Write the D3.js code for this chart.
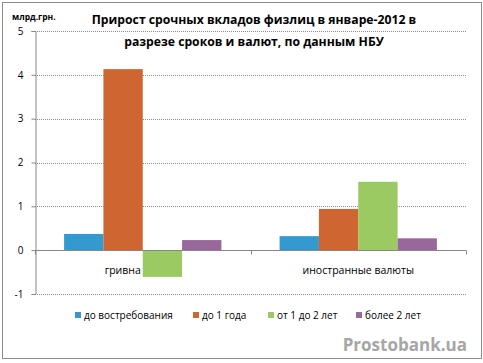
<!DOCTYPE html>
<html>
<head>
  <meta charset="utf-8">
  <script src="https://d3js.org/d3.v7.min.js"></script>
  <style>
    body { margin: 0; background: #fff; }
    svg text { font-family: "Open Sans", "Noto Sans", sans-serif; fill: #000; }
    .title { font-size: 12.2px; font-weight: bold; text-anchor: middle; }
    .unit { font-size: 8.5px; font-weight: bold; }
    .tick-label { font-size: 10px; text-anchor: end; }
    .cat-label { font-size: 10.5px; }
    .legend-label { font-size: 10px; }
    .watermark { font-size: 17px; font-weight: bold; fill: #a6a6a6; text-anchor: end; }
  </style>
</head>
<body>
  <svg id="chart" width="483" height="363"></svg>
  <script>
    // Данные
    const categories = ["гривна", "иностранные валюты"];
    const seriesNames = ["до востребования", "до 1 года", "от 1 до 2 лет", "более 2 лет"];
    const seriesColors = ["#3399cf", "#cf6530", "#9bca62", "#98679b"];
    const values = [
      [0.37, 0.32],   // до востребования
      [4.13, 0.94],   // до 1 года
      [-0.61, 1.56],  // от 1 до 2 лет
      [0.23, 0.27]    // более 2 лет
    ];
    const yTicks = [-1, 0, 1, 2, 3, 4, 5];

    const svg = d3.select("#chart");

    // рамка
    svg.append("rect")
      .attr("x", 2.5).attr("y", 2.5)
      .attr("width", 479).attr("height", 356)
      .attr("fill", "#fff").attr("stroke", "#8c8c8c").attr("stroke-width", 1);

    const plot = { left: 35, right: 466, top: 31, bottom: 294 };

    const y = d3.scaleLinear().domain([-1, 5]).range([plot.bottom, plot.top]);
    const x0 = d3.scaleBand().domain(categories).range([plot.left, plot.right]).paddingInner(0.27).paddingOuter(0.135);
    const x1 = d3.scaleBand().domain(seriesNames).range([0, x0.bandwidth()]);

    // сетка
    svg.append("g").selectAll("line")
      .data(yTicks.filter(d => d !== 0))
      .join("line")
      .attr("x1", plot.left).attr("x2", plot.right)
      .attr("y1", d => Math.round(y(d)) + 0.5).attr("y2", d => Math.round(y(d)) + 0.5)
      .attr("stroke", "#8c8c8c").attr("stroke-dasharray", "1,1");

    // ось Y
    const yAxis = svg.append("g")
      .attr("transform", `translate(${plot.left + 0.5},0)`)
      .call(d3.axisLeft(y).tickValues(yTicks).tickSize(4).tickPadding(8).tickFormat(d => String(d)));
    yAxis.select(".domain").attr("stroke", "#868686");
    yAxis.selectAll(".tick line").attr("stroke", "#868686");
    yAxis.selectAll(".tick text").attr("class", "tick-label").attr("font-family", null).attr("font-size", null);

    // столбцы
    const groups = svg.append("g").selectAll("g")
      .data(categories)
      .join("g")
      .attr("transform", d => `translate(${x0(d)},0)`);

    groups.selectAll("rect")
      .data((c, ci) => seriesNames.map((s, si) => ({ s, si, v: values[si][ci] })))
      .join("rect")
      .attr("x", d => x1(d.s))
      .attr("width", x1.bandwidth())
      .attr("y", d => y(Math.max(0, d.v)))
      .attr("height", d => Math.abs(y(d.v) - y(0)))
      .attr("fill", d => seriesColors[d.si]);

    // ось X (нулевая линия)
    const zeroY = Math.round(y(0)) + 0.5;
    svg.append("line")
      .attr("x1", plot.left).attr("x2", plot.right)
      .attr("y1", zeroY).attr("y2", zeroY)
      .attr("stroke", "#868686");
    const bandStep = (plot.right - plot.left) / categories.length;
    svg.append("g").selectAll("line")
      .data(d3.range(categories.length + 1))
      .join("line")
      .attr("x1", i => Math.round(plot.left + i * bandStep) + 0.5)
      .attr("x2", i => Math.round(plot.left + i * bandStep) + 0.5)
      .attr("y1", zeroY).attr("y2", zeroY + 4)
      .attr("stroke", "#868686");

    // подписи категорий
    const catOffset = [-20, 0];
    svg.append("g").selectAll("text")
      .data(categories)
      .join("text")
      .attr("class", "cat-label")
      .attr("x", (d, i) => x0(d) + x0.bandwidth() / 2 + catOffset[i])
      .attr("y", zeroY + 23)
      .attr("text-anchor", "middle")
      .text(d => d);

    // заголовок
    svg.append("text").attr("class", "title").attr("x", 254).attr("y", 24).text("Прирост срочных вкладов физлиц в январе-2012 в");
    svg.append("text").attr("class", "title").attr("x", 254).attr("y", 46).text("разрезе сроков и валют, по данным НБУ");
    svg.append("text").attr("class", "unit").attr("x", 12).attr("y", 20).text("млрд.грн.");

    // легенда
    const legendX = [75, 193, 268, 356];
    const legend = svg.append("g").selectAll("g")
      .data(seriesNames)
      .join("g")
      .attr("transform", (d, i) => `translate(${legendX[i]},312)`);
    legend.append("rect").attr("width", 6).attr("height", 6).attr("y", 0).attr("fill", (d, i) => seriesColors[i]);
    legend.append("text").attr("class", "legend-label").attr("x", 9).attr("y", 7).text(d => d);

    svg.append("text").attr("class", "watermark").attr("x", 467).attr("y", 351).text("Prostobank.ua");
  </script>
</body>
</html>
